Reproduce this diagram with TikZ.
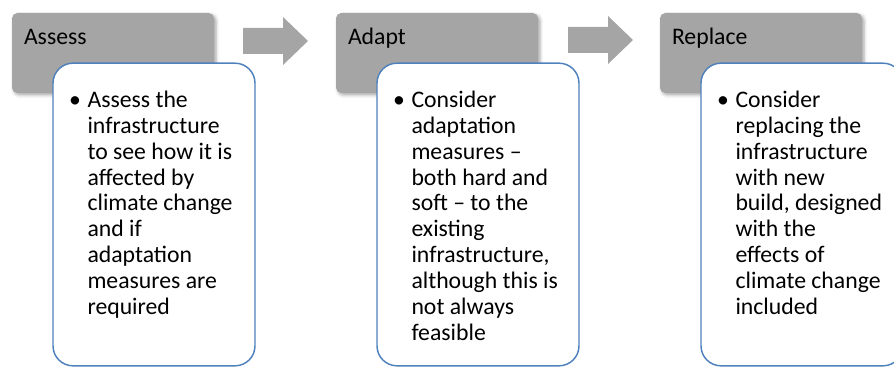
\documentclass[tikz,border=0pt]{standalone}
\usepackage{fontspec}
\setmainfont{Carlito}
\usepackage{tikz}
\usepackage{xcolor}
\usetikzlibrary{
    shapes,
    shadows.blur
}
\definecolor{stagegray}{HTML}{A5A5A5}
\definecolor{stageblue}{HTML}{4F81BD}
\newcommand{\stagefont}{\fontsize{17.8}{19.4}\selectfont}

\begin{document}
\begin{tikzpicture}[x=0.75pt, y=-0.75pt,
    stagehead/.style={fill=stagegray, rounded corners=4pt, minimum width=151.5pt, minimum height=60pt,
        blur shadow={shadow xshift=1.5pt, shadow yshift=-1.5pt, shadow blur radius=2.5pt, shadow opacity=35}},
    stagebody/.style={draw=stageblue, line width=1.1pt, fill=white, rounded corners=15pt, minimum width=151.5pt, minimum height=227pt},
    headtext/.style={anchor=base west, inner sep=0pt, font=\stagefont},
    bodytext/.style={anchor=north west, inner sep=0pt, align=left, font=\stagefont},
    stagearrow/.pic={\fill[stagegray] (0,-13) -- (40,-13) -- (40,-24) -- (65,0) -- (40,24) -- (40,13) -- (0,13) -- cycle;}
    ]
            \useasboundingbox (0,0) rectangle (894,367);

            \node[stagehead] (assesshead) at (113,53) {};
            \node[stagehead] (adapthead) at (437,53) {};
            \node[stagehead] (replacehead) at (761,53) {};

            \pic (arrow1) at (243,41) {stagearrow};
            \pic (arrow2) at (568,40) {stagearrow};

            \node[headtext] (assesstitle) at ([xshift=9pt, yshift=-24pt]assesshead.north west) {Assess};
            \node[headtext] (adapttitle) at ([xshift=9pt, yshift=-24pt]adapthead.north west) {Adapt};
            \node[headtext] (replacetitle) at ([xshift=9pt, yshift=-24pt]replacehead.north west) {Replace};

            \node[stagebody] (assessbody) at (154,214.5) {};
            \node[stagebody] (adaptbody) at (478,214.5) {};
            \node[stagebody] (replacebody) at (802,214.5) {};

            \node[bodytext] (assesstext) at ([xshift=26.25pt, yshift=-21.25pt]assessbody.north west)
                {\llap{\textbullet\hspace{5pt}}Assess the\\ infrastructure\\ to see how it is\\ affected by\\ climate change\\ and if\\ adaptation\\ measures are\\ required};
            \node[bodytext] (adapttext) at ([xshift=26.25pt, yshift=-21.25pt]adaptbody.north west)
                {\llap{\textbullet\hspace{5pt}}Consider\\ adaptation\\ measures --\\ both hard and\\ soft -- to the\\ existing\\ infrastructure,\\ although this is\\ not always\\ feasible};
            \node[bodytext] (replacetext) at ([xshift=26.25pt, yshift=-21.25pt]replacebody.north west)
                {\llap{\textbullet\hspace{5pt}}Consider\\ replacing the\\ infrastructure\\ with new\\ build, designed\\ with the\\ effects of\\ climate change\\ included};
            \end{tikzpicture}
\end{document}
